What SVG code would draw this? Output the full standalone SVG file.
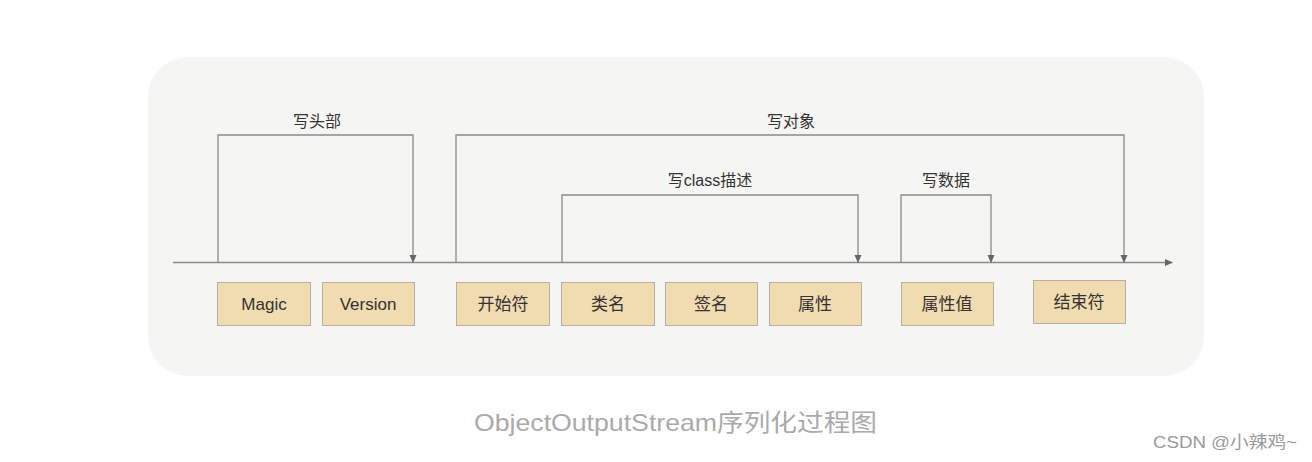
<svg xmlns="http://www.w3.org/2000/svg" width="1312" height="462" viewBox="0 0 1312 462">
<style>
text{font-family:"Liberation Sans","Noto Sans CJK SC",sans-serif;}
.lbl{font-size:16px;fill:#333;text-anchor:middle;}
.box{fill:#f1dbb0;stroke:#b8b0a0;stroke-width:1;}
.bt{font-size:17px;fill:#333;text-anchor:middle;}
.ln{fill:none;stroke:#8a8a8a;stroke-width:1.3;}
</style>
<defs>
<marker id="ah" viewBox="0 0 8 8" refX="7" refY="4" markerWidth="8" markerHeight="8" orient="auto" markerUnits="userSpaceOnUse">
<path d="M0,0.5 L8,4 L0,7.5 Z" fill="#666"/>
</marker>
</defs>
<rect width="1312" height="462" fill="#ffffff"/>
<rect x="148" y="57" width="1056" height="319" rx="40" ry="40" fill="#f5f5f3"/>
<g id="connectors">
<line class="ln" x1="173" y1="262.5" x2="1172" y2="262.5" marker-end="url(#ah)"/>
<polyline class="ln" points="218,262 218,135 413,135 413,262" marker-end="url(#ah)"/>
<polyline class="ln" points="456,262 456,135 1124,135 1124,262" marker-end="url(#ah)"/>
<polyline class="ln" points="562,262 562,195 858,195 858,262" marker-end="url(#ah)"/>
<polyline class="ln" points="901,262 901,195 991,195 991,262" marker-end="url(#ah)"/>
</g>
<g id="lbl-head"><text class="lbl" x="317" y="127">写头部</text></g>
<g id="lbl-obj"><text class="lbl" x="791" y="127">写对象</text></g>
<g id="lbl-class"><text class="lbl" x="710" y="186">写class描述</text></g>
<g id="lbl-data"><text class="lbl" x="946" y="186">写数据</text></g>
<g id="n-magic"><rect class="box" x="217.5" y="282.5" width="93" height="43"/><text class="bt" x="264" y="310">Magic</text></g>
<g id="n-version"><rect class="box" x="322.5" y="282.5" width="92" height="43"/><text class="bt" x="368" y="310">Version</text></g>
<g id="n-start"><rect class="box" x="456.5" y="282.5" width="93" height="43"/><text class="bt" x="503" y="310">开始符</text></g>
<g id="n-classname"><rect class="box" x="561.5" y="282.5" width="93" height="43"/><text class="bt" x="608" y="310">类名</text></g>
<g id="n-sig"><rect class="box" x="665.5" y="282.5" width="92" height="43"/><text class="bt" x="711" y="310">签名</text></g>
<g id="n-attr"><rect class="box" x="769.5" y="282.5" width="92" height="43"/><text class="bt" x="815" y="310">属性</text></g>
<g id="n-attrval"><rect class="box" x="901.5" y="282.5" width="92" height="43"/><text class="bt" x="947" y="310">属性值</text></g>
<g id="n-end"><rect class="box" x="1033.5" y="280.5" width="92" height="43"/><text class="bt" x="1079" y="308">结束符</text></g>
<text x="474" y="431" font-size="24" fill="#aaaaaa" textLength="403" lengthAdjust="spacingAndGlyphs">ObjectOutputStream序列化过程图</text>
<text x="1153" y="448" font-size="17" fill="#999999" textLength="144" lengthAdjust="spacingAndGlyphs">CSDN @小辣鸡~</text>
</svg>
